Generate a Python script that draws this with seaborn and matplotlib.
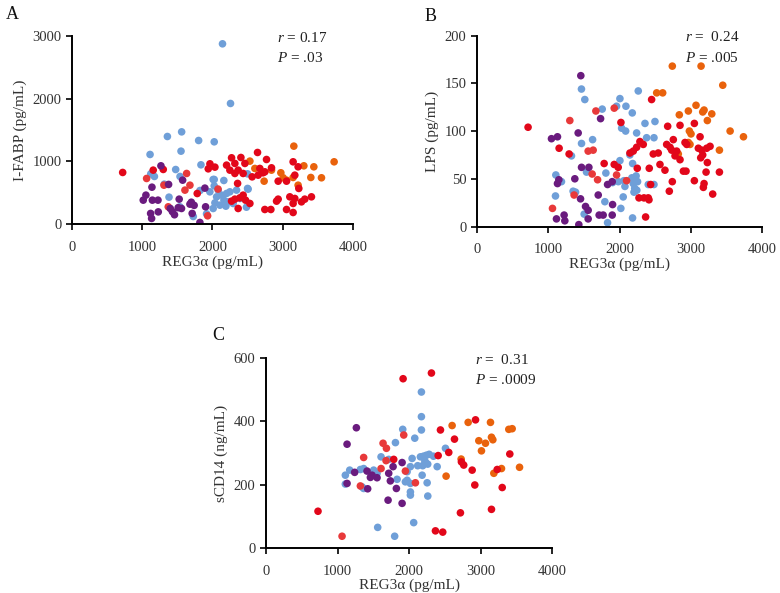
import pandas as pd
import matplotlib
matplotlib.use("Agg")
import matplotlib.pyplot as plt
import seaborn as sns

# ---- data (REG3a, marker) per colour group ----
# Panel A: I-FABP
a_blue = [(2144, 2878), (2258, 1926), (1359, 1399), (1562, 1473), (1553, 1165), (1804, 1335),
          (2026, 1314), (1112, 1112), (1837, 947), (1477, 872), (1174, 761), (1122, 803),
          (1539, 761), (2026, 713), (2163, 697), (2500, 803), (2509, 559), (2485, 271),
          (1728, 122), (1917, 165), (1382, 431), (1823, 537), (1314, 638), (2011, 713),
          (2026, 611), (2083, 543), (1964, 516), (2060, 436), (2131, 463), (2202, 490),
          (2249, 516), (2164, 383), (2225, 356), (2036, 340), (2107, 303), (2192, 287),
          (2011, 250), (2344, 543), (2392, 410), (2296, 330), (2501, 570), (1537, 277)]
a_orange = [(3160, 1245), (3734, 995), (2534, 1006), (2605, 889), (2975, 820), (3303, 931),
            (3445, 915), (3402, 745), (3554, 740), (2737, 686), (3008, 740), (3056, 702),
            (3221, 622), (2842, 862), (3150, 745)]
a_coral = [(1063, 729), (1310, 622), (1633, 809), (1680, 622), (1609, 543), (1371, 277),
           (1932, 133), (2080, 560)]
a_red = [(722, 825), (1157, 862), (1300, 873), (1784, 489), (1965, 963), (2036, 910),
         (1941, 883), (2273, 1059), (2406, 1064), (2643, 1144), (2771, 1032), (2202, 942),
         (2320, 969), (2463, 969), (2249, 862), (2367, 862), (2438, 809), (2320, 809),
         (2676, 889), (2747, 835), (2842, 899), (2652, 782), (2566, 755), (3150, 995),
         (3221, 915), (3174, 782), (2937, 686), (3056, 686), (3231, 570), (2359, 650),
         (2438, 463), (2391, 420), (2472, 383), (2534, 330), (2320, 399), (2273, 367),
         (2367, 250), (2747, 234), (2833, 234), (2914, 367), (2937, 399), (3056, 234),
         (3103, 436), (3174, 410), (3150, 330), (3269, 356), (3316, 399), (3411, 436),
         (3150, 186), (2720, 820)]
a_purple = [(1267, 931), (1376, 634), (1139, 590), (1576, 702), (1053, 463), (1015, 383),
            (1145, 383), (1225, 383), (1527, 399), (1680, 319), (1893, 575), (1903, 277),
            (1120, 171), (1134, 91), (1229, 196), (1400, 250), (1430, 200), (1460, 150),
            (1560, 250), (1712, 171), (1740, 300), (1822, 27), (1513, 263), (1700, 350)]

# Panel B: LPS
b_blue = [(1464, 144), (1511, 133), (1755, 123), (2003, 134), (2087, 126), (2176, 119),
          (2260, 142), (2027, 103), (2083, 100), (2237, 98), (2354, 108), (2494, 110),
          (2377, 93), (2480, 93), (1620, 91), (1465, 87), (1956, 126), (2143, 75),
          (2181, 66), (2003, 69), (1105, 54), (1184, 47), (1535, 57), (1806, 56),
          (1900, 46), (1980, 47), (2059, 48), (2073, 42), (2170, 51), (2190, 45),
          (2210, 40), (2230, 53), (2250, 47), (2200, 36), (2240, 38), (2400, 44),
          (2480, 44), (1347, 37), (1381, 36), (1100, 32), (1792, 26), (2049, 31),
          (2016, 19), (2180, 9), (1830, 4), (1502, 13), (1324, 74)]
b_orange = [(2737, 168), (3140, 168), (3444, 148), (2518, 140), (2602, 140), (3069, 127),
            (2962, 121), (3163, 120), (3182, 122), (3290, 118), (2835, 117), (3228, 111),
            (2976, 100), (2999, 97), (3547, 100), (3734, 94), (3397, 80), (2985, 86),
            (2962, 88), (2821, 76)]
b_coral = [(1301, 111), (1666, 121), (1923, 124), (1558, 79), (1628, 80), (1690, 49),
           (1614, 55), (1956, 54), (1058, 19), (1361, 33), (2096, 48)]
b_red = [(716, 104), (1151, 82), (1291, 76), (2017, 109), (1782, 66), (1923, 65),
         (1979, 62), (2447, 133), (2672, 105), (2845, 106), (3046, 108), (3126, 94),
         (3266, 84), (2751, 91), (2915, 88), (2939, 86), (2283, 89), (2330, 86),
         (2237, 83), (2190, 79), (2143, 77), (2658, 86), (2705, 83), (2728, 80),
         (2798, 79), (2775, 74), (2845, 70), (3102, 82), (3149, 80), (3163, 75),
         (3219, 82), (3135, 72), (3228, 67), (2470, 76), (2540, 77), (2564, 65),
         (2634, 59), (2414, 61), (2246, 61), (2892, 58), (2929, 58), (3210, 57),
         (3397, 57), (3046, 48), (2737, 47), (3182, 45), (3172, 41), (2695, 37),
         (3303, 34), (2433, 44), (2270, 30), (2340, 30), (2400, 30), (2410, 28),
         (2363, 10)]
b_purple = [(1455, 158), (1044, 92), (1128, 94), (1418, 98), (1732, 113), (1465, 62),
            (1568, 62), (1147, 49), (1128, 45), (1371, 50), (1830, 44), (1895, 47),
            (1451, 29), (1699, 33), (1900, 23), (1521, 21), (1558, 17), (1221, 12),
            (1231, 6), (1114, 8), (1427, 2), (1558, 8), (1712, 12), (1768, 12), (1895, 12)]

# Panel C: sCD14
c_blue = [(2172, 493), (2172, 415), (2172, 373), (1911, 375), (2079, 347), (1809, 333),
          (2508, 315), (2392, 257), (1608, 288), (1715, 280), (2042, 283), (2158, 288),
          (2200, 290), (2240, 293), (2280, 296), (2220, 275), (2260, 265), (2190, 260),
          (2230, 270), (2018, 257), (1972, 241), (2182, 230), (2252, 206), (2261, 164),
          (2018, 177), (2018, 167), (1972, 214), (1832, 217), (1948, 209), (2018, 204),
          (1109, 230), (1170, 246), (1109, 202), (1319, 248), (1365, 251), (1505, 246),
          (1552, 236), (1343, 193), (1365, 188), (1561, 65), (1798, 37), (2064, 80),
          (2340, 290), (2120, 260)]
c_orange = [(2601, 387), (2825, 397), (3137, 397), (3393, 375), (3440, 377), (2974, 339),
            (3067, 331), (3151, 350), (3170, 342), (3011, 307), (2727, 281), (2517, 227),
            (3184, 236), (3291, 251), (3543, 255)]
c_coral = [(1636, 331), (1683, 315), (1365, 286), (1925, 357), (1608, 251), (1678, 276),
           (1948, 243), (2088, 206), (1319, 196), (1063, 37)]
c_red = [(727, 116), (1916, 535), (2312, 553), (2438, 373), (2634, 344), (2554, 302),
         (2406, 292), (2928, 405), (2731, 272), (2763, 262), (2881, 246), (2918, 199),
         (3231, 248), (3407, 297), (3301, 191), (2717, 111), (3151, 122), (2368, 54),
         (2470, 50), (1785, 280)]
c_purple = [(1263, 380), (1133, 328), (1239, 239), (1412, 243), (1459, 223), (1552, 222),
            (1715, 236), (1776, 257), (1902, 270), (1738, 212), (1822, 188), (1421, 187),
            (1133, 204), (1706, 151), (1902, 141), (1482, 230)]

groups = ["blue", "orange", "coral", "red", "purple"]
colors = {"blue": "#6f9fd8", "orange": "#e9620c", "coral": "#e8393a",
          "red": "#e2071a", "purple": "#6a1b7e"}

panels = {
    "A": dict(series=[a_blue, a_orange, a_coral, a_red, a_purple],
              ylabel="I-FABP (pg/mL)", ylim=3000, ystep=1000,
              r="0.17", p=".03"),
    "B": dict(series=[b_blue, b_orange, b_coral, b_red, b_purple],
              ylabel="LPS (pg/mL)", ylim=200, ystep=50,
              r=" 0.24", p=".005"),
    "C": dict(series=[c_blue, c_orange, c_coral, c_red, c_purple],
              ylabel="sCD14 (ng/mL)", ylim=600, ystep=200,
              r=" 0.31", p=".0009"),
}

rows = []
for name, spec in panels.items():
    for g, pts in zip(groups, spec["series"]):
        for x, y in pts:
            rows.append((name, g, x, y))
df = pd.DataFrame(rows, columns=["panel", "group", "REG3a", "value"])

sns.set_style("white")
plt.rcParams["font.family"] = ["Liberation Serif", "DejaVu Serif"]
plt.rcParams["mathtext.fontset"] = "custom"
plt.rcParams["mathtext.it"] = "Liberation Serif:italic"
plt.rcParams["mathtext.rm"] = "Liberation Serif"

fig = plt.figure(figsize=(7.8, 5.93), dpi=100)
boxes = {"A": [0.0923, 0.622, 0.360, 0.317],
         "B": [0.6115, 0.618, 0.366, 0.322],
         "C": [0.341, 0.076, 0.367, 0.320]}
letter_pos = {"A": (0.008, 0.975), "B": (0.544, 0.972), "C": (0.272, 0.435)}

for name, spec in panels.items():
    ax = fig.add_axes(boxes[name])
    sub = df[df["panel"] == name]
    sns.scatterplot(data=sub, x="REG3a", y="value", hue="group", hue_order=groups,
                    palette=colors, s=30, linewidth=0, alpha=1, legend=False, ax=ax)
    ax.set_xlim(0, 4000)
    ax.set_ylim(0, spec["ylim"])
    ax.set_xticks(range(0, 4001, 1000))
    ax.set_yticks(range(0, spec["ylim"] + 1, spec["ystep"]))
    sns.despine(ax=ax)
    for s in ("left", "bottom"):
        ax.spines[s].set_linewidth(1.4)
        ax.spines[s].set_color("black")
    ax.tick_params(axis="both", direction="out", length=4, width=1.2, colors="black",
                   labelsize=10.5, labelcolor="#333333", bottom=True, left=True)
    ax.tick_params(axis="x", pad=8)
    ax.set_xlabel("REG3\u03b1 (pg/mL)", fontsize=11, color="#333333", labelpad=1)
    ax.set_ylabel(spec["ylabel"], fontsize=11, color="#333333", labelpad=4)
    ax.text(0.73, 0.99, "$r$ = " + spec["r"], transform=ax.transAxes,
            fontsize=11, color="#222222", va="center", ha="left")
    ax.text(0.73, 0.885, "$P$ = " + spec["p"], transform=ax.transAxes,
            fontsize=11, color="#222222", va="center", ha="left")
    fig.text(letter_pos[name][0], letter_pos[name][1], name, fontsize=13,
             color="#111111", va="center", ha="left")

fig.savefig("out.png", dpi=100, facecolor="white")
